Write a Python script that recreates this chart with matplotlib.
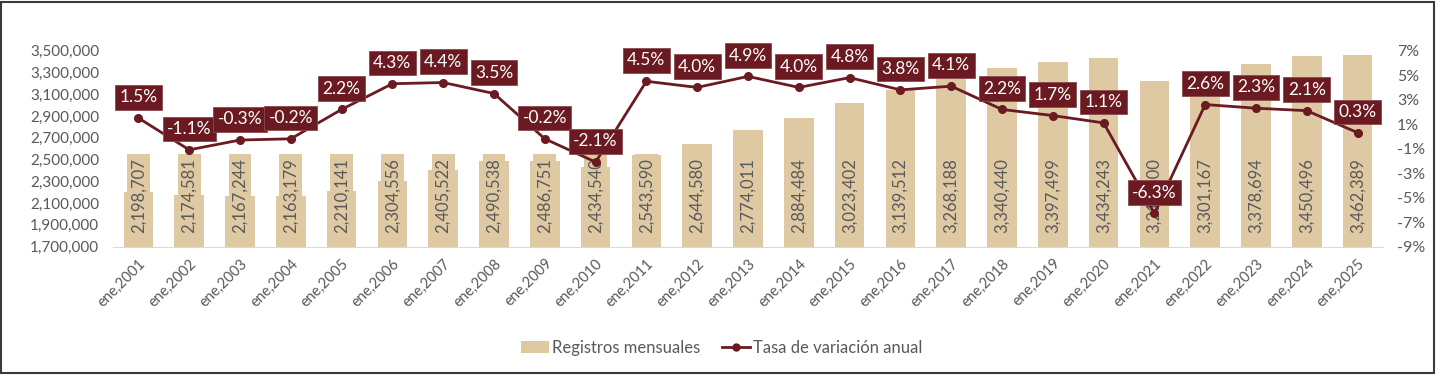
import matplotlib
matplotlib.use("Agg")
import matplotlib.pyplot as plt
from matplotlib.patches import Rectangle, Patch
from matplotlib.lines import Line2D
from matplotlib.ticker import FuncFormatter

plt.rcParams['font.family'] = ['Lato', 'DejaVu Sans']

years = list(range(2001, 2026))
categories = [f"ene,{y}" for y in years]
registros = [2198707, 2174581, 2167244, 2163179, 2210141, 2304556, 2405522,
             2490538, 2486751, 2434540, 2543590, 2644580, 2774011, 2884484,
             3023402, 3139512, 3268188, 3340440, 3397499, 3434243, 3217500,
             3301167, 3378694, 3450496, 3462389]
tasa = [1.5, -1.1, -0.3, -0.2, 2.2, 4.3, 4.4, 3.5, -0.2, -2.1, 4.5, 4.0, 4.9,
        4.0, 4.8, 3.8, 4.1, 2.2, 1.7, 1.1, -6.3, 2.6, 2.3, 2.1, 0.3]
left_ticks = [1700000, 1900000, 2100000, 2300000, 2500000, 2700000, 2900000,
              3100000, 3300000, 3500000]
right_ticks = [-9, -7, -5, -3, -1, 1, 3, 5, 7]

BAR = '#DEC9A3'
MAROON = '#6A1A20'
GRAY = '#595959'

W, H = 1437, 375
fig = plt.figure(figsize=(W / 100, H / 100), dpi=100)
ax = fig.add_axes([113 / W, 1 - 246.5 / H, (1383 - 113) / W, (246.5 - 50.7) / H])
x = list(range(len(years)))

ax.bar(x, registros, width=0.58, color=BAR, zorder=1)
ax.set_xlim(-0.5, len(years) - 0.5)
ax.set_ylim(left_ticks[0], left_ticks[-1])
ax.set_yticks(left_ticks)
ax.yaxis.set_major_formatter(FuncFormatter(lambda v, p: f"{int(v):,}"))
ax.set_xticks(x)
ax.set_xticklabels(categories, rotation=45, ha='right', rotation_mode='anchor',
                   fontsize=10.5, color=GRAY)
ax.tick_params(axis='y', length=0, labelsize=11, labelcolor=GRAY, pad=10)
ax.tick_params(axis='x', length=0, pad=7)
for s in ['top', 'right', 'left']:
    ax.spines[s].set_visible(False)
ax.spines['bottom'].set_color('#D9D9D9')

for xi, v in zip(x, registros):
    ax.annotate(f"{v:,}", (xi, left_ticks[0]), xytext=(0, 10), textcoords='offset points',
                rotation=90, ha='center', va='bottom', fontsize=12, color=GRAY,
                bbox=dict(boxstyle='square,pad=0.2', fc=BAR, ec='none'), zorder=2)

ax2 = ax.twinx()
ax2.set_ylim(right_ticks[0], right_ticks[-1])
ax2.set_yticks(right_ticks)
ax2.yaxis.set_major_formatter(FuncFormatter(lambda v, p: f"{int(round(v))}%"))
ax2.tick_params(axis='y', length=0, labelsize=11.5, labelcolor=GRAY, pad=10)
for s in ['top', 'right', 'left', 'bottom']:
    ax2.spines[s].set_visible(False)
ax2.plot(x, tasa, color=MAROON, lw=2, marker='o', ms=5.5, zorder=3)
for xi, t in zip(x, tasa):
    ax2.annotate(f"{t:.1f}%", (xi, t), xytext=(0, 15), textcoords='offset points',
                 ha='center', va='center', fontsize=12.5, color='white',
                 bbox=dict(boxstyle='square,pad=0.25', fc=MAROON, ec='#8a4a4e', lw=0.6),
                 zorder=4)

handles = [Patch(facecolor=BAR, edgecolor='none'),
           Line2D([], [], color=MAROON, lw=2, marker='o', ms=5)]
fig.legend(handles, ['Registros mensuales', 'Tasa de variación anual'],
           loc='center', bbox_to_anchor=(721.5 / W, 1 - 348 / H), ncol=2, frameon=False,
           fontsize=12, labelcolor=GRAY, handlelength=1.7, handletextpad=0.15,
           columnspacing=1.3, borderpad=0)

fig.patches.append(Rectangle((1 / W, 2 / H), 1 - 4 / W, 1 - 4 / H, transform=fig.transFigure,
                             fill=False, ec='#3a3a3a', lw=1.5))

fig.savefig('out.png', dpi=100)
